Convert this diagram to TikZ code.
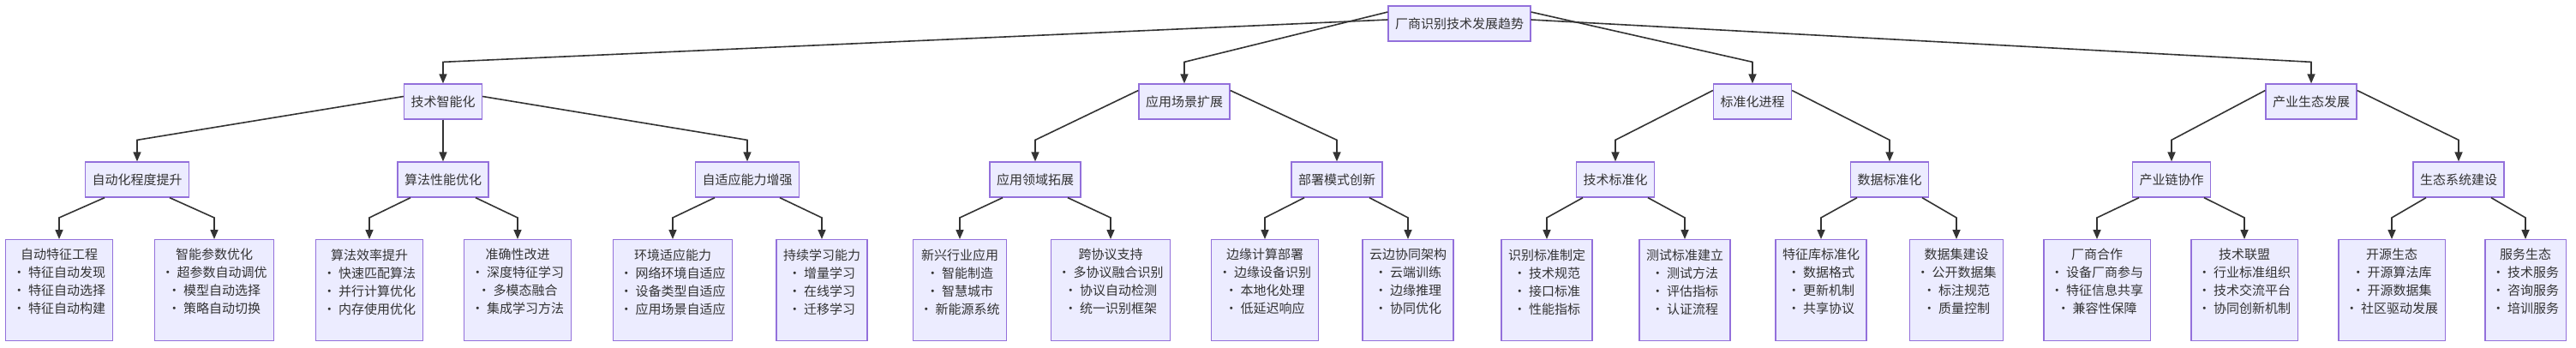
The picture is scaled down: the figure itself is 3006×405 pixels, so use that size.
\documentclass[tikz,border=0pt]{standalone}
\usepackage{fontspec}
\setmainfont{Noto Sans CJK SC}
\usetikzlibrary{arrows.meta,calc}
\definecolor{nfill}{HTML}{ECECFF}
\definecolor{nline}{HTML}{9370DB}
\definecolor{eline}{HTML}{333333}
\begin{document}
\begin{tikzpicture}[x=1pt,y=-1pt,
  box/.style={draw=nline,fill=nfill,line width=1.3pt,inner xsep=8pt,inner ysep=0pt,
    font=\fontsize{15}{21}\selectfont,text=black!80,align=center},
  mid/.style={box,minimum height=41pt},
  leaf/.style={box,minimum height=118pt,anchor=north},
  edge/.style={draw=eline,line width=1.6pt,-{Triangle[length=11pt,width=9pt]}}]
\useasboundingbox (0,0) rectangle (3006,405);
% root
\node[mid] (r) at (1703,27.5) {厂商识别技术发展趋势};
% level 1
\node[mid] (a) at (517,118.5) {技术智能化};
\node[mid] (b) at (1382,118.5) {应用场景扩展};
\node[mid] (c) at (2045,118.5) {标准化进程};
\node[mid] (d) at (2697,118.5) {产业生态发展};
% level 2
\node[mid] (a1) at (160,209.5) {自动化程度提升};
\node[mid] (a2) at (517,209.5) {算法性能优化};
\node[mid] (a3) at (872,209.5) {自适应能力增强};
\node[mid] (b1) at (1208,209.5) {应用领域拓展};
\node[mid] (b2) at (1560,209.5) {部署模式创新};
\node[mid] (c1) at (1885,209.5) {技术标准化};
\node[mid] (c2) at (2205,209.5) {数据标准化};
\node[mid] (d1) at (2534,209.5) {产业链协作};
\node[mid] (d2) at (2869,209.5) {生态系统建设};
% leaves
\node[leaf] (a11) at (69,279) {自动特征工程\\• 特征自动发现\\• 特征自动选择\\• 特征自动构建\\ };
\node[leaf] (a12) at (250,279) {智能参数优化\\• 超参数自动调优\\• 模型自动选择\\• 策略自动切换\\ };
\node[leaf] (a21) at (431,279) {算法效率提升\\• 快速匹配算法\\• 并行计算优化\\• 内存使用优化\\ };
\node[leaf] (a22) at (604,279) {准确性改进\\• 深度特征学习\\• 多模态融合\\• 集成学习方法\\ };
\node[leaf] (a31) at (785,279) {环境适应能力\\• 网络环境自适应\\• 设备类型自适应\\• 应用场景自适应\\ };
\node[leaf] (a32) at (959,279) {持续学习能力\\• 增量学习\\• 在线学习\\• 迁移学习\\ };
\node[leaf] (b11) at (1120,279) {新兴行业应用\\• 智能制造\\• 智慧城市\\• 新能源系统\\ };
\node[leaf] (b12) at (1296,279) {跨协议支持\\• 多协议融合识别\\• 协议自动检测\\• 统一识别框架\\ };
\node[leaf] (b21) at (1476,279) {边缘计算部署\\• 边缘设备识别\\• 本地化处理\\• 低延迟响应\\ };
\node[leaf] (b22) at (1643,279) {云边协同架构\\• 云端训练\\• 边缘推理\\• 协同优化\\ };
\node[leaf] (c11) at (1805,279) {识别标准制定\\• 技术规范\\• 接口标准\\• 性能指标\\ };
\node[leaf] (c12) at (1966,279) {测试标准建立\\• 测试方法\\• 评估指标\\• 认证流程\\ };
\node[leaf] (c21) at (2125,279) {特征库标准化\\• 数据格式\\• 更新机制\\• 共享协议\\ };
\node[leaf] (c22) at (2283,279) {数据集建设\\• 公开数据集\\• 标注规范\\• 质量控制\\ };
\node[leaf] (d11) at (2447,279) {厂商合作\\• 设备厂商参与\\• 特征信息共享\\• 兼容性保障\\ };
\node[leaf] (d12) at (2619,279) {技术联盟\\• 行业标准组织\\• 技术交流平台\\• 协同创新机制\\ };
\node[leaf] (d21) at (2791,279) {开源生态\\• 开源算法库\\• 开源数据集\\• 社区驱动发展\\ };
\node[leaf] (d22) at (2947,279) {服务生态\\• 技术服务\\• 咨询服务\\• 培训服务\\ };
% root edges
\draw[edge] ($(r.west)+(0,-4.5)$) -- ($(a.north)+(0,-25)$) -- (a.north);
\draw[edge] ($(r.west)+(0,-13.5)$) -- ($(b.north)+(0,-25)$) -- (b.north);
\draw[edge] ($(r.east)+(0,-13.5)$) -- ($(c.north)+(0,-25)$) -- (c.north);
\draw[edge] ($(r.east)+(0,-4.5)$) -- ($(d.north)+(0,-25)$) -- (d.north);
% level1 edges
\draw[edge] ($(a.west)+(0,-6)$) -- ($(a1.north)+(0,-25)$) -- (a1.north);
\draw[edge] (a.south) -- (a2.north);
\draw[edge] ($(a.east)+(0,-6)$) -- ($(a3.north)+(0,-25)$) -- (a3.north);
\foreach \p/\l/\r in {b/b1/b2,c/c1/c2,d/d1/d2}{
  \draw[edge] ($(\p.west)+(0,-13)$) -- ($(\l.north)+(0,-25)$) -- (\l.north);
  \draw[edge] ($(\p.east)+(0,-13)$) -- ($(\r.north)+(0,-25)$) -- (\r.north);
}
% level2 edges
\foreach \p in {a1,a2,a3,b1,b2,c1,c2,d1,d2}{
  \draw[edge] ($(\p.south)+(-38,0)$) -- ($(\p1.north)+(0,-25)$) -- (\p1.north);
  \draw[edge] ($(\p.south)+(38,0)$) -- ($(\p2.north)+(0,-25)$) -- (\p2.north);
}
\end{tikzpicture}
\end{document}
